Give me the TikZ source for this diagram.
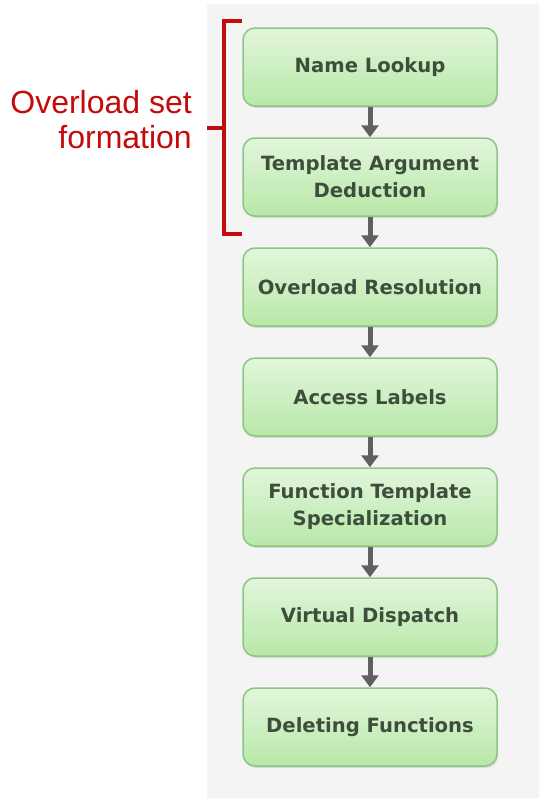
\documentclass[tikz,border=0pt]{standalone}
\usepackage{fontspec}
\setmainfont{DejaVu Sans}
\newfontfamily\labelfont{Liberation Sans}
\usetikzlibrary{arrows.meta,shadows}
\definecolor{panelbg}{RGB}{244,244,244}
\definecolor{boxtop}{RGB}{226,246,220}
\definecolor{boxbot}{RGB}{184,232,168}
\definecolor{boxline}{RGB}{140,198,130}
\definecolor{boxtext}{RGB}{62,78,60}
\definecolor{arrowgray}{RGB}{96,96,96}
\definecolor{bracketred}{RGB}{196,10,10}
\begin{document}
\begin{tikzpicture}[x=1pt,y=-1pt,
  stepbox/.style={draw=boxline, line width=1.5pt, rounded corners=12pt,
    top color=boxtop, bottom color=boxbot,
    minimum width=254pt, minimum height=78pt, inner sep=2pt,
    align=center, text=boxtext,
    font=\bfseries\fontsize{19.6}{27}\selectfont,
    drop shadow={opacity=0.2, shadow xshift=1pt, shadow yshift=-2pt}},
  flow/.style={draw=arrowgray, line width=5pt,
    -{Triangle[width=17pt,length=12pt]}},
  brace/.style={draw=bracketred, line width=3.2pt}]
\useasboundingbox (0,0) rectangle (539,798);
\fill[panelbg] (207,4) rectangle (539,798);

\node[stepbox] (n1) at (370,67)  {\raisebox{-1pt}{Name Lookup}};
\node[stepbox] (n2) at (370,177) {Template Argument\\Deduction};
\node[stepbox] (n3) at (370,287) {\raisebox{-1pt}{Overload Resolution}};
\node[stepbox] (n4) at (370,397) {\raisebox{-1pt}{Access Labels}};
\node[stepbox] (n5) at (370,507) {Function Template\\Specialization};
\node[stepbox] (n6) at (370,617) {\raisebox{-1pt}{Virtual Dispatch}};
\node[stepbox] (n7) at (370,727) {\raisebox{-1pt}{Deleting Functions}};

\draw[flow] (n1.south) -- (n2.north);
\draw[flow] (n2.south) -- (n3.north);
\draw[flow] (n3.south) -- (n4.north);
\draw[flow] (n4.south) -- (n5.north);
\draw[flow] (n5.south) -- (n6.north);
\draw[flow] (n6.south) -- (n7.north);

\coordinate (btop) at (242,21);
\coordinate (bbot) at (242,234);
\coordinate (bmid) at (224,128);
\coordinate (btip) at (207,128);
\draw[brace] (btop) -- (224,21) -- (224,234) -- (bbot);
\draw[brace] (bmid) -- (btip);

\node[anchor=north east, inner sep=0pt, align=right, text=bracketred,
  font=\labelfont\fontsize{32}{35}\selectfont] (lbl) at (192,90)
  {Overload set\\formation};
\end{tikzpicture}
\end{document}
